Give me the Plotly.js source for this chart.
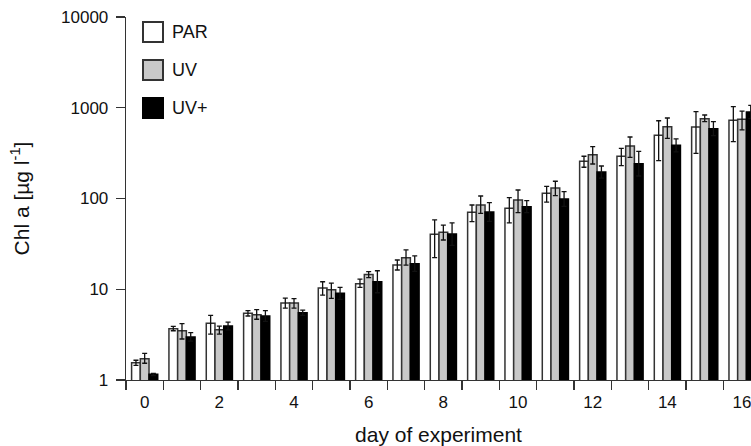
<!DOCTYPE html>
<html>
<head>
<meta charset="utf-8">
<script src="https://cdn.plot.ly/plotly-3.0.1.min.js"></script>
<style>html,body{margin:0;padding:0;background:#fff;overflow:hidden}</style>
</head>
<body>
<div id="chart" style="width:751px;height:446px"></div>
<script>
// ---- data ----
const days = ['0','1','2','3','4','5','6','7','8','9','10','11','12','13','14','15','16'];
const seriesNames = ['PAR', 'UV', 'UV+'];

const parMean  = [1.55, 3.68, 4.22, 5.43, 7.05, 10.3, 11.5, 18.5, 40.3, 70.5, 78, 114, 257, 292, 497, 614, 728];
const parUpper = [1.65, 3.9, 5.16, 5.8, 8.0, 12.1, 12.9, 21.0, 58, 84.8, 102, 136, 292, 357, 719, 905, 1027];
const parLower = [1.45, 3.49, 3.21, 5.07, 6.2, 8.6, 10.5, 16.3, 22.3, 55.5, 54, 91, 221, 230, 261, 315, 423];

const uvMean  = [1.72, 3.49, 3.58, 5.24, 7.05, 9.89, 14.5, 22.3, 42.4, 84.8, 96.3, 130.6, 304, 379, 618, 757, 746];
const uvUpper = [1.97, 4.17, 3.93, 5.95, 7.9, 11.7, 15.6, 27.1, 51, 106.6, 124, 155, 372, 476, 771, 832, 920];
const uvLower = [1.53, 2.83, 3.21, 4.67, 6.2, 7.95, 13.4, 18.4, 34.9, 68.7, 69.8, 107.4, 240, 284, 460, 702, 569];

const uvpMean  = [1.16, 2.98, 3.94, 5.07, 5.52, 9.02, 12.1, 19.1, 40.6, 71.0, 81.2, 98.7, 196, 242, 385, 588, 898];
const uvpUpper = [1.18, 3.32, 4.35, 5.8, 5.9, 10.5, 16.0, 23.3, 54, 89.9, 94.6, 119, 228, 331, 453, 702, 1064];
const uvpLower = [1.12, 2.68, 3.57, 4.43, 5.16, 7.75, 9.15, 15.7, 30.5, 56, 70, 82, 168, 177, 327, 492, 757];

const yTickVals = [1, 10, 100, 1000, 10000];
const yTickText = ['1', '10', '100', '1000', '10000'];
const xTickText = ['0','','2','','4','','6','','8','','10','','12','','14','','16'];

// ---- styles ----
const FONT = 'Liberation Sans, Arial, sans-serif';
const fills = ['#ffffff', '#c8c8c8', '#000000'];
const outlines = ['#333333', '#333333', '#000000'];

function mk(i, mean, up, lo) {
  return {
    type: 'bar',
    name: seriesNames[i],
    x: days,
    y: mean,
    marker: {color: fills[i], line: {color: outlines[i], width: 1.5}},
    error_y: {
      type: 'data', symmetric: false,
      array: up.map((u, k) => u - mean[k]),
      arrayminus: lo.map((l, k) => mean[k] - l),
      color: '#111', thickness: 1.3, width: 2.5
    },
    showlegend: false
  };
}

const traces = [
  mk(0, parMean, parUpper, parLower),
  mk(1, uvMean, uvUpper, uvLower),
  mk(2, uvpMean, uvpUpper, uvpLower)
];

// legend drawn as shapes + annotations (paper coords)
const W = 625, H = 363;
const shapes = [], annotations = [];
const legTop = [22, 60, 98];
seriesNames.forEach((n, i) => {
  const y0 = 380 - (legTop[i] + 20), y1 = 380 - legTop[i];
  shapes.push({type: 'rect', xref: 'paper', yref: 'paper',
    x0: 17 / W, x1: 37 / W, y0: y0 / H, y1: y1 / H,
    fillcolor: fills[i], line: {color: outlines[i], width: 2}});
  annotations.push({xref: 'paper', yref: 'paper', x: 44 / W, y: (y0 + y1) / 2 / H,
    xanchor: 'left', yanchor: 'middle', showarrow: false, text: n,
    font: {family: FONT, size: 18, color: '#111'}});
});

const layout = {
  width: 751, height: 446,
  margin: {l: 126, r: 0, t: 17, b: 66, pad: 0},
  paper_bgcolor: '#fff', plot_bgcolor: '#fff',
  barmode: 'group', bargap: 0.3, bargroupgap: 0,
  font: {family: FONT, size: 17, color: '#111'},
  xaxis: {
    type: 'category', range: [-0.5, 16.24],
    tickmode: 'array', tickvals: days, ticktext: xTickText,
    tickson: 'boundaries', ticks: 'outside', ticklen: 9, tickwidth: 1.3, tickcolor: '#333',
    ticklabelstandoff: 6,
    showline: true, linecolor: '#333', linewidth: 1.3,
    showgrid: false, zeroline: false,
    title: {text: 'day of experiment', font: {family: FONT, size: 21}, standoff: 18}
  },
  yaxis: {
    type: 'log', range: [0, 4],
    tickmode: 'array', tickvals: yTickVals, ticktext: yTickText,
    ticks: 'outside', ticklen: 9, tickwidth: 1.3, tickcolor: '#333',
    showline: true, linecolor: '#333', linewidth: 1.3,
    showgrid: false, zeroline: false,
    ticklabelstandoff: 4,
    title: {text: 'Chl a [µg l<sup>-1</sup>]', font: {family: FONT, size: 21}, standoff: 25}
  },
  shapes: shapes,
  annotations: annotations
};

Plotly.newPlot('chart', traces, layout, {displayModeBar: false, staticPlot: true});
</script>
</body>
</html>
